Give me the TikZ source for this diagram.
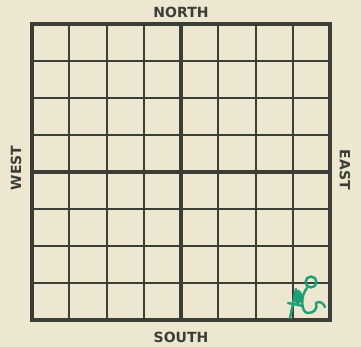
\documentclass[tikz,border=0pt]{standalone}
\usepackage{fontspec}
\setmainfont{DejaVu Sans}
\usepackage{xcolor}
\usetikzlibrary{positioning}
\definecolor{paper}{HTML}{EDE6D0}
\definecolor{ink}{HTML}{3B3E37}
\definecolor{pen}{HTML}{1F9E78}

\begin{document}
\begin{tikzpicture}[
  x=1pt, y=-1pt,
  thinline/.style={draw=ink, line width=2pt},
  midline/.style={draw=ink, line width=3.8pt},
  framebox/.style={draw=ink, line width=4.8pt},
  compass/.style={font=\fontsize{14}{15}\selectfont\bfseries, text=ink, inner sep=0pt},
  penmark/.style={draw=pen, line width=2.4pt, line cap=round, line join=round}
]

% paper
\fill[paper] (0,0) rectangle (361,347);
\useasboundingbox (0,0) rectangle (361,347);

% cells
\foreach \i in {1,2,3,5,6,7} {
  \draw[thinline] (32+\i*37.25, 24) -- (32+\i*37.25, 320);
  \draw[thinline] (32, 24+\i*37) -- (330, 24+\i*37);
}

% quarters
\draw[midline] (181, 24) -- (181, 320);
\draw[midline] (32, 172) -- (330, 172);

% border
\draw[framebox] (32,24) rectangle (330,320);

% labels
\node[compass] (north) at (181, 12) {NORTH};
\node[compass] (south) at (181, 337) {SOUTH};
\node[compass, rotate=90] (west) at (16, 168) {WEST};
\node[compass, rotate=-90] (east) at (345, 170) {EAST};

% pencil mark
\draw[penmark] (296,289) -- (290,318);
\fill[pen] (298,297) ellipse (4.5 and 7);
\draw[penmark] (288,303) -- (303,306);
\draw[penmark] (311,282) circle (5.5);
\draw[penmark] (307,288) .. controls (300,296) and (301,313) .. (308,313)
  .. controls (314,313) and (318,309) .. (316,303)
  .. controls (320,300) and (324,304) .. (325,307);

\end{tikzpicture}
\end{document}
